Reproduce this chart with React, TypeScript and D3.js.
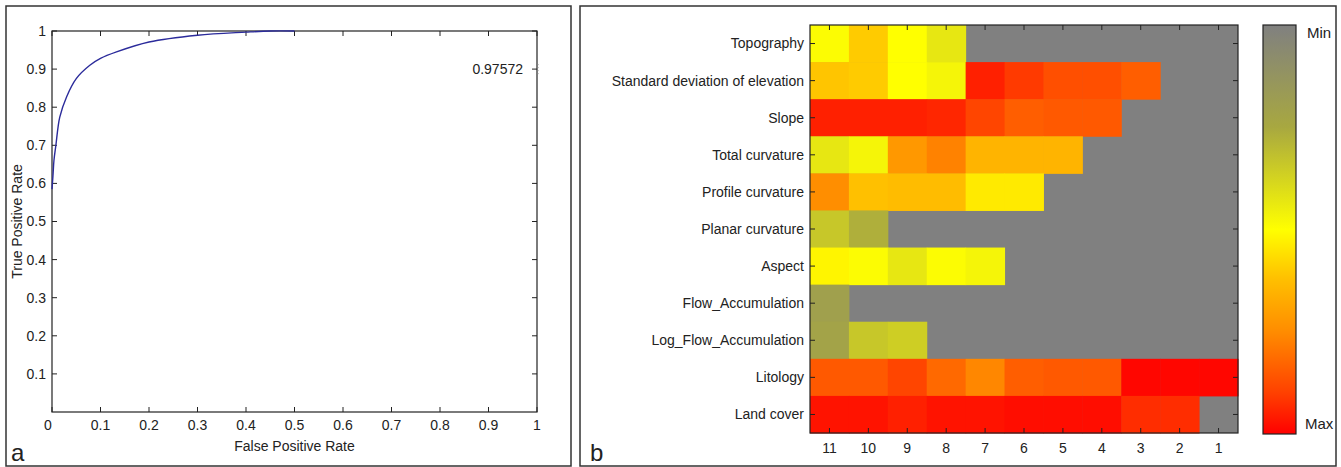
import React from 'react';
import * as d3 from 'd3';

// ROC curve (panel a)
const fprValues = [0, 0.002, 0.004, 0.008, 0.016, 0.03, 0.05, 0.078, 0.1, 0.133, 0.2, 0.3, 0.4, 0.45, 0.5];
const tprValues = [0.585, 0.62, 0.66, 0.7, 0.774, 0.827, 0.875, 0.91, 0.928, 0.945, 0.971, 0.989, 0.997, 1.0, 1.0];
const aucLabel = '0.97572';
const rocTicks = [0, 0.1, 0.2, 0.3, 0.4, 0.5, 0.6, 0.7, 0.8, 0.9, 1];

// heatmap (panel b)
const featureNames = [
    'Topography',
    'Standard deviation of elevation',
    'Slope',
    'Total curvature',
    'Profile curvature',
    'Planar curvature',
    'Aspect',
    'Flow_Accumulation',
    'Log_Flow_Accumulation',
    'Litology',
    'Land cover',
];
const classLabels = ['11', '10', '9', '8', '7', '6', '5', '4', '3', '2', '1'];
// one row per feature, columns 11 -> 1; null = not used (grey)
const cellValues: (number | null)[][] = [
    [0.49, 0.6, 0.5, 0.43, null, null, null, null, null, null, null],
    [0.61, 0.6, 0.5, 0.47, 0.95, 0.91, 0.87, 0.87, 0.84, null, null],
    [0.95, 0.95, 0.95, 0.94, 0.89, 0.84, 0.85, 0.85, null, null, null],
    [0.43, 0.47, 0.72, 0.77, 0.65, 0.65, 0.65, null, null, null, null],
    [0.745, 0.62, 0.63, 0.63, 0.54, 0.54, null, null, null, null, null],
    [0.34, 0.27, null, null, null, null, null, null, null, null, null],
    [0.52, 0.49, 0.43, 0.49, 0.47, null, null, null, null, null, null],
    [0.2, null, null, null, null, null, null, null, null, null, null],
    [0.22, 0.34, 0.36, null, null, null, null, null, null, null, null],
    [0.85, 0.85, 0.89, 0.82, 0.76, 0.84, 0.85, 0.85, 0.99, 0.99, 0.99],
    [0.97, 0.97, 0.95, 0.97, 0.97, 0.98, 0.98, 0.98, 0.93, 0.93, null],
];
const colorStops = [0, 0.25, 0.5, 0.62, 0.75, 0.9, 1];
const colorRange = ['#808080', '#a8a840', '#ffff00', '#ffc000', '#ff8c00', '#ff4000', '#ff0000'];

const FONT = 'Liberation Sans, Arial, sans-serif';

const App = () => {
    const width = 1341;
    const height = 467;

    // panel a
    const x = d3.scaleLinear().domain([0, 1]).range([52, 537]);
    const y = d3.scaleLinear().domain([0, 1]).range([412, 31]);
    const line = d3
        .line<number>()
        .x((d, i) => x(d))
        .y((d, i) => y(tprValues[i]))
        .curve(d3.curveCatmullRom.alpha(0.5));

    // panel b
    const cx = d3.scaleBand().domain(classLabels).range([810, 1238]);
    const cy = d3.scaleBand().domain(featureNames).range([25, 433]);
    const color = d3
        .scaleLinear<string>()
        .domain(colorStops)
        .range(colorRange)
        .interpolate(d3.interpolateRgb);
    const bar = d3.scaleLinear().domain([0, 1]).range([25, 434]);

    const tick = 5;

    return (
        <svg
            width={width}
            height={height}
            style={{ position: 'absolute', left: 0, top: 0, background: '#fff' }}
            fontFamily={FONT}
        >
            <defs>
                <linearGradient id='cbar' x1='0' y1='0' x2='0' y2='1'>
                    {colorStops.map((s, i) => (
                        <stop key={i} offset={s} stopColor={colorRange[i]} />
                    ))}
                </linearGradient>
            </defs>

            {/* panel frames */}
            <rect x={6} y={6} width={565} height={460} fill='none' stroke='#333' strokeWidth={1.5} />
            <rect x={580} y={6} width={756} height={460} fill='none' stroke='#333' strokeWidth={1.5} />

            {/* ---- panel a ---- */}
            <g>
                {rocTicks.map(t => (
                    <g key={'x' + t} stroke='#222'>
                        <line x1={x(t)} x2={x(t)} y1={y(0)} y2={y(0) - tick} />
                        <line x1={x(t)} x2={x(t)} y1={y(1)} y2={y(1) + tick} />
                    </g>
                ))}
                {rocTicks.slice(1).map(t => (
                    <g key={'y' + t} stroke='#222'>
                        <line x1={x(0)} x2={x(0) + tick} y1={y(t)} y2={y(t)} />
                        <line x1={x(1)} x2={x(1) - tick} y1={y(t)} y2={y(t)} />
                    </g>
                ))}
                <rect
                    x={x(0)}
                    y={y(1)}
                    width={x(1) - x(0)}
                    height={y(0) - y(1)}
                    fill='none'
                    stroke='#222'
                    strokeWidth={1.2}
                />
                <path d={line(fprValues) || ''} fill='none' stroke='#2b2b9b' strokeWidth={1.4} />
                {rocTicks.map(t => (
                    <text key={'xl' + t} x={x(t) - (t === 0 ? 4 : 0)} y={430} fontSize={14} textAnchor='middle' fill='#222'>
                        {t}
                    </text>
                ))}
                {rocTicks.slice(1).map(t => (
                    <text key={'yl' + t} x={46} y={y(t)} dy='0.35em' fontSize={14} textAnchor='end' fill='#222'>
                        {t}
                    </text>
                ))}
                <text x={523} y={y(0.9)} dy='0.35em' fontSize={14} textAnchor='end' fill='#222'>
                    {aucLabel}
                </text>
                <line x1={x(1) + 1} x2={x(1) + 1} y1={y(0.9) - 5} y2={y(0.9) + 5} stroke='#888' strokeDasharray='1,2' />
                <text x={(x(0) + x(1)) / 2} y={451} fontSize={14} textAnchor='middle' fill='#222'>
                    False Positive Rate
                </text>
                <text
                    transform={`translate(22, ${(y(0) + y(1)) / 2}) rotate(-90)`}
                    fontSize={14}
                    textAnchor='middle'
                    fill='#222'
                >
                    True Positive Rate
                </text>
                <text x={11} y={461} fontSize={24} fill='#222'>
                    a
                </text>
            </g>

            {/* ---- panel b ---- */}
            <g>
                <rect x={810} y={25} width={428} height={408} fill='#808080' />
                {cellValues.map((row, r) =>
                    row.map((v, c) =>
                        v === null ? null : (
                            <rect
                                key={r + '-' + c}
                                x={cx(classLabels[c])}
                                y={cy(featureNames[r])}
                                width={cx.bandwidth() + 0.5}
                                height={cy.bandwidth() + 0.5}
                                fill={color(v)}
                            />
                        )
                    )
                )}
                <rect x={810} y={25} width={428} height={408} fill='none' stroke='#222' strokeWidth={1.2} />
                {classLabels.map(c => {
                    const px = (cx(c) || 0) + cx.bandwidth() / 2;
                    return (
                        <g key={'c' + c}>
                            <line x1={px} x2={px} y1={433} y2={433 - tick} stroke='#222' />
                            <line x1={px} x2={px} y1={25} y2={25 + tick} stroke='#222' />
                            <text x={px} y={453} fontSize={14} textAnchor='middle' fill='#222'>
                                {c}
                            </text>
                        </g>
                    );
                })}
                {featureNames.map(f => {
                    const py = (cy(f) || 0) + cy.bandwidth() / 2;
                    return (
                        <g key={'f' + f}>
                            <line x1={810} x2={810 + tick} y1={py} y2={py} stroke='#222' />
                            <line x1={1238} x2={1238 - tick} y1={py} y2={py} stroke='#222' />
                            <text x={804} y={py} dy='0.35em' fontSize={14} textAnchor='end' fill='#222'>
                                {f}
                            </text>
                        </g>
                    );
                })}

                {/* colour bar */}
                <rect
                    x={1263}
                    y={bar(0)}
                    width={33}
                    height={bar(1) - bar(0)}
                    fill='url(#cbar)'
                    stroke='#222'
                    strokeWidth={1.2}
                />
                <text x={1307} y={bar(0) + 13} fontSize={15} fill='#222'>
                    Min
                </text>
                <text x={1305} y={bar(1) - 5} fontSize={15} fill='#222'>
                    Max
                </text>
                <text x={590} y={461} fontSize={24} fill='#222'>
                    b
                </text>
            </g>
        </svg>
    );
};

export default App;
